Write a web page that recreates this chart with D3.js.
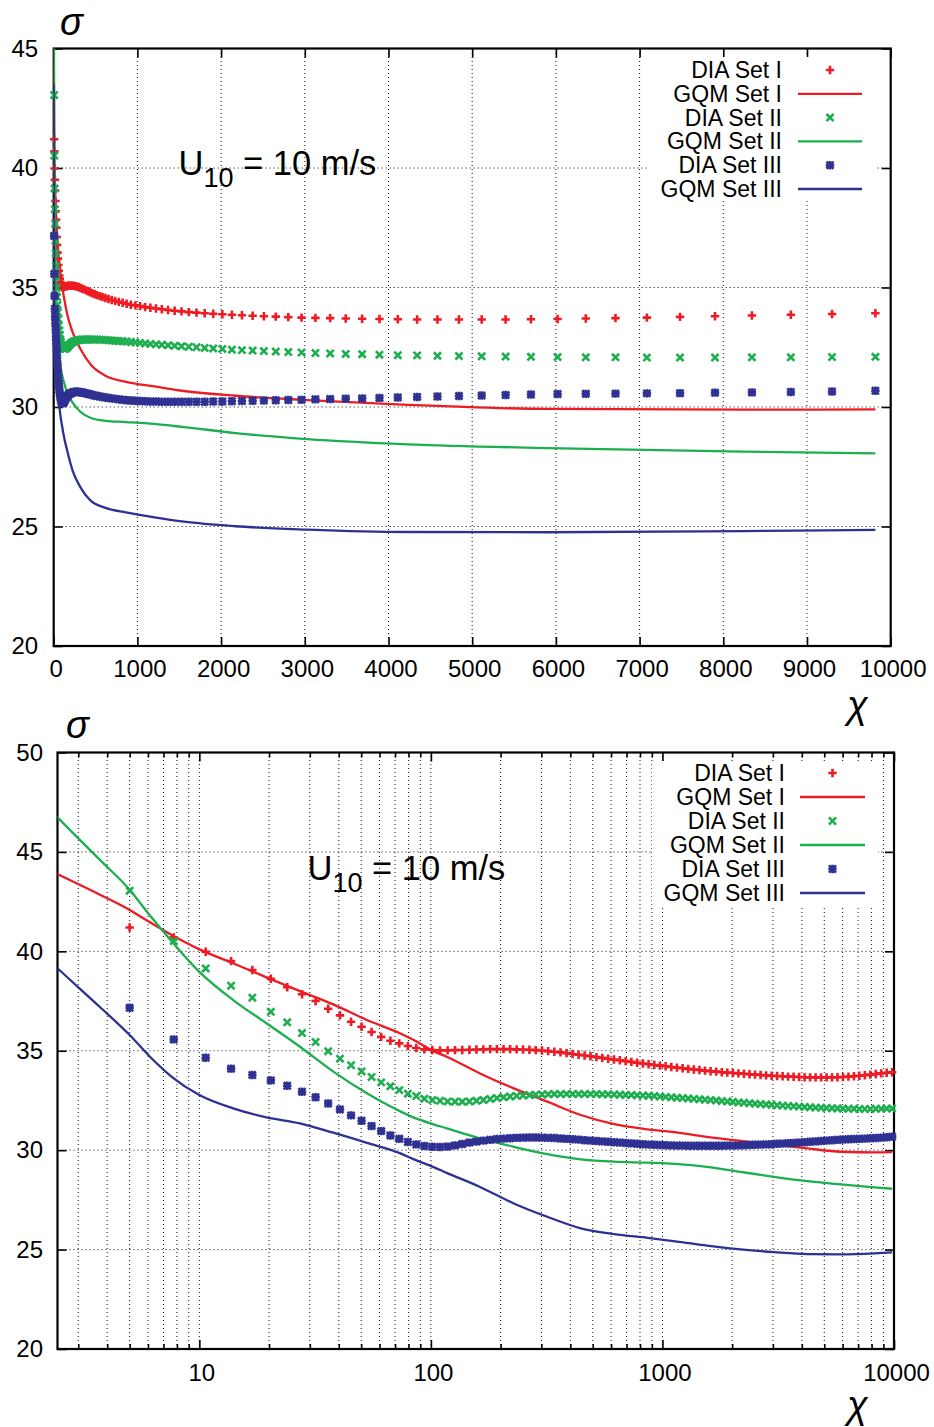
<!DOCTYPE html>
<html><head><meta charset="utf-8">
<script src="https://cdn.jsdelivr.net/npm/d3@7"></script>
<style>
body{margin:0;background:#fff}
svg{display:block}
text{font-family:"Liberation Sans",Arial,Helvetica,sans-serif}
</style>
</head><body>
<svg id="c" width="934" height="1427"></svg>
<script>
// ---------- data ----------
const xDIA = [5, 7.75, 10.65, 13.71, 16.94, 20.36, 23.96, 27.76, 31.77, 36.0,
  40.48, 45.2, 50.18, 55.44, 60.99, 66.85, 73.03, 79.55, 86.44, 93.72,
  101.4, 109.5, 118.1, 127.1, 136.6, 146.7, 157.3, 168.5, 180.3, 192.8,
  205.9, 219.8, 234.5, 250.0, 266.4, 283.6, 301.8, 321.1, 341.3, 362.8,
  385.4, 409.2, 434.4, 461.0, 489.1, 518.7, 549.9, 582.9, 617.7, 654.5,
  693.3, 734.3, 777.5, 823.1, 871.3, 922.1, 975.7, 1032, 1092, 1155,
  1222, 1292, 1366, 1445, 1527, 1614, 1706, 1804, 1906, 2015,
  2129, 2249, 2377, 2511, 2653, 2803, 2961, 3127, 3303, 3489,
  3685, 3892, 4111, 4342, 4585, 4842, 5113, 5399, 5702, 6020,
  6357, 6712, 7087, 7483, 7901, 8342, 8807, 9299, 9817];

const diaSetI = [41.2, 40.7, 39.98, 39.51, 39.06, 38.62, 38.19, 37.84, 37.50, 37.11,
  36.78, 36.46, 36.21, 35.94, 35.70, 35.50, 35.37, 35.24, 35.14, 35.07,
  35.04, 35.02, 35.02, 35.03, 35.04, 35.05, 35.06, 35.07, 35.08, 35.08,
  35.08, 35.08, 35.07, 35.06, 35.05, 35.03, 35.01, 34.98, 34.95, 34.92,
  34.88, 34.84, 34.80, 34.76, 34.72, 34.68, 34.64, 34.60, 34.56, 34.52,
  34.48, 34.44, 34.40, 34.36, 34.32, 34.28, 34.25, 34.22, 34.18, 34.15,
  34.12, 34.09, 34.06, 34.03, 34.00, 33.97, 33.95, 33.92, 33.90, 33.88,
  33.86, 33.84, 33.82, 33.80, 33.78, 33.76, 33.74, 33.73, 33.72, 33.70,
  33.69, 33.68, 33.67, 33.66, 33.66, 33.66, 33.66, 33.66, 33.67, 33.68,
  33.70, 33.72, 33.74, 33.77, 33.80, 33.83, 33.86, 33.89, 33.92];

const diaSetII = [43.05, 40.52, 39.14, 38.27, 37.67, 36.96, 36.43, 35.89, 35.44, 34.98,
  34.60, 34.27, 33.96, 33.68, 33.41, 33.21, 33.02, 32.84, 32.72, 32.59,
  32.52, 32.48, 32.45, 32.44, 32.44, 32.45, 32.48, 32.52, 32.57, 32.62,
  32.66, 32.70, 32.73, 32.75, 32.77, 32.79, 32.80, 32.81, 32.82, 32.82,
  32.82, 32.82, 32.82, 32.82, 32.82, 32.82, 32.81, 32.81, 32.80, 32.79,
  32.78, 32.77, 32.76, 32.75, 32.74, 32.72, 32.70, 32.68, 32.66, 32.64,
  32.62, 32.60, 32.58, 32.56, 32.54, 32.52, 32.50, 32.47, 32.45, 32.43,
  32.40, 32.38, 32.36, 32.34, 32.32, 32.30, 32.28, 32.26, 32.24, 32.22,
  32.21, 32.19, 32.17, 32.16, 32.14, 32.13, 32.12, 32.11, 32.10, 32.09,
  32.08, 32.08, 32.07, 32.07, 32.07, 32.08, 32.08, 32.09, 32.10];

const diaSetIII = [37.16, 35.57, 34.65, 34.10, 33.78, 33.51, 33.24, 32.94, 32.66, 32.35,
  32.05, 31.75, 31.48, 31.21, 30.96, 30.74, 30.57, 30.41, 30.29, 30.21,
  30.17, 30.16, 30.18, 30.24, 30.31, 30.38, 30.43, 30.48, 30.52, 30.56,
  30.58, 30.60, 30.62, 30.63, 30.64, 30.64, 30.63, 30.62, 30.61, 30.59,
  30.57, 30.55, 30.53, 30.50, 30.48, 30.46, 30.44, 30.42, 30.40, 30.38,
  30.36, 30.34, 30.32, 30.30, 30.28, 30.27, 30.26, 30.25, 30.24, 30.23,
  30.23, 30.22, 30.22, 30.22, 30.22, 30.22, 30.22, 30.22, 30.23, 30.23,
  30.24, 30.25, 30.26, 30.27, 30.28, 30.29, 30.30, 30.32, 30.33, 30.35,
  30.36, 30.38, 30.40, 30.42, 30.44, 30.46, 30.48, 30.50, 30.52, 30.54,
  30.55, 30.56, 30.57, 30.58, 30.60, 30.61, 30.63, 30.65, 30.68];

const xGQM = [1, 2, 2.44, 3.72, 5, 6.12, 7.6, 10, 14, 19.5, 27.2, 37.9, 52.9, 73.8, 84,
  102.8, 117, 163, 228, 318, 444, 619, 863, 1204, 1556, 2170, 3030, 4230, 5900, 8230, 9817];
const gqmSetI = [46.4, 44.4, 43.89, 42.85, 42.08, 41.46, 40.82, 40.10, 39.40, 38.69, 38.00,
  37.33, 36.55, 35.87, 35.55, 34.98, 34.70, 33.86, 33.11, 32.44, 31.77, 31.31, 31.05,
  30.86, 30.67, 30.47, 30.29, 30.09, 29.92, 29.89, 29.90];
const gqmSetII = [51.5, 47.8, 46.74, 44.6, 43.1, 41.8, 40.5, 38.97, 37.55, 36.38, 35.20,
  33.95, 32.86, 31.95, 31.65, 31.30, 31.10, 30.59, 30.17, 29.80, 29.54, 29.42, 29.37,
  29.29, 29.16, 28.91, 28.66, 28.44, 28.28, 28.13, 28.06];
const gqmSetIII = [43.5, 40.1, 39.15, 37.2, 35.79, 34.70, 33.69, 32.77, 32.10, 31.65, 31.35,
  30.88, 30.37, 29.84, 29.55, 29.15, 28.86, 28.15, 27.32, 26.65, 26.07, 25.78, 25.59,
  25.38, 25.20, 25.01, 24.87, 24.77, 24.76, 24.81, 24.86];

const legendLabels = ["DIA Set I", "GQM Set I", "DIA Set II", "GQM Set II", "DIA Set III", "GQM Set III"];
const topXTicks = [0, 1000, 2000, 3000, 4000, 5000, 6000, 7000, 8000, 9000, 10000];
const topYTicks = [20, 25, 30, 35, 40, 45];
const botXTicks = [10, 100, 1000, 10000];
const botYTicks = [20, 25, 30, 35, 40, 45, 50];
const annotation = {main: "U", sub: "10", rest: " = 10 m/s"};

// ---------- drawing ----------
const colors = ['#ED1C24', '#1DAE4F', '#2E3192'];
const diaSets = [diaSetI, diaSetII, diaSetIII];
const gqmSets = [gqmSetI, gqmSetII, gqmSetIII];
const FONT = '"Liberation Sans",Arial,Helvetica,sans-serif';

const markerPath = [
  s => `M${-s},0H${s}M0,${-s}V${s}`,
  s => `M${-s*0.85},${-s*0.85}L${s*0.85},${s*0.85}M${-s*0.85},${s*0.85}L${s*0.85},${-s*0.85}`,
  s => `M${-s},0H${s}M0,${-s}V${s}M${-s*0.85},${-s*0.85}L${s*0.85},${s*0.85}M${-s*0.85},${s*0.85}L${s*0.85},${-s*0.85}`
];

const svg = d3.select('#c');
const defs = svg.append('defs');

function drawPanel(p) {
  const x = p.x, y = p.y;
  const [xa, xb] = x.range();
  const [yb, ya] = y.range();
  const g = svg.append('g');
  defs.append('clipPath').attr('id', p.id).append('rect')
    .attr('x', xa).attr('y', ya).attr('width', xb - xa).attr('height', yb - ya);

  // grid
  const grid = g.append('g').attr('stroke', '#111').attr('stroke-width', 1).attr('stroke-dasharray', '1,3');
  grid.selectAll('line.gx').data(p.gridX).join('line').attr('class', 'gx')
    .attr('x1', d => x(d)).attr('x2', d => x(d)).attr('y1', yb).attr('y2', ya);
  grid.selectAll('line.gy').data(p.gridY).join('line').attr('class', 'gy')
    .attr('x1', xa).attr('x2', xb).attr('y1', d => y(d)).attr('y2', d => y(d));

  // axes
  function style(sel) {
    sel.select('.domain').remove();
    sel.selectAll('.tick line').attr('stroke', '#000').attr('stroke-width', 1.6);
    sel.selectAll('.tick text').attr('fill', '#000');
    sel.attr('font-size', 24).attr('font-family', FONT);
  }
  g.append('g').attr('transform', `translate(0,${yb})`)
    .call(d3.axisBottom(x).tickValues(p.xMajor).tickFormat(d3.format('d')).tickSize(-9).tickPadding(p.xPad))
    .call(style).selectAll('.tick text').attr('dx', 2);
  g.append('g').attr('transform', `translate(0,${ya})`)
    .call(d3.axisTop(x).tickValues(p.xMajor).tickFormat('').tickSize(-9)).call(style);
  if (p.xMinor) {
    g.append('g').attr('transform', `translate(0,${yb})`)
      .call(d3.axisBottom(x).tickValues(p.xMinor).tickFormat('').tickSize(-5)).call(style);
    g.append('g').attr('transform', `translate(0,${ya})`)
      .call(d3.axisTop(x).tickValues(p.xMinor).tickFormat('').tickSize(-5)).call(style);
  }
  g.append('g').attr('transform', `translate(${xa},0)`)
    .call(d3.axisLeft(y).tickValues(p.yTicks).tickFormat(d3.format('d')).tickSize(-9).tickPadding(p.yPad))
    .call(style);
  g.append('g').attr('transform', `translate(${xb},0)`)
    .call(d3.axisRight(y).tickValues(p.yTicks).tickFormat('').tickSize(-9)).call(style);

  // border
  g.append('rect').attr('x', xa).attr('y', ya).attr('width', xb - xa).attr('height', yb - ya)
    .attr('fill', 'none').attr('stroke', '#000').attr('stroke-width', 2.2);

  // data
  const line = d3.line().x(d => x(d[0])).y(d => y(d[1])).curve(d3.curveMonotoneX);
  for (let k = 0; k < 3; k++) {
    const pts = xDIA.map((v, i) => [v, diaSets[k][i]]);
    g.append('g').selectAll('path').data(pts).join('path')
      .attr('transform', d => `translate(${x(d[0])},${y(d[1])})`)
      .attr('d', markerPath[k](4.2))
      .attr('stroke', colors[k]).attr('stroke-width', 2.6).attr('fill', 'none');
    const lpts = xGQM.map((v, i) => [v, gqmSets[k][i]]);
    g.append('path').datum(lpts).attr('d', line).attr('clip-path', `url(#${p.id})`)
      .attr('fill', 'none').attr('stroke', colors[k]).attr('stroke-width', 2.3)
      .attr('stroke-linejoin', 'round');
  }

  // legend
  const L = p.legend;
  g.append('rect').attr('x', L.box[0]).attr('y', L.box[1]).attr('width', L.box[2]).attr('height', L.box[3]).attr('fill', '#fff');
  legendLabels.forEach((lab, i) => {
    const cy = L.cy0 + i * L.dy;
    const k = Math.floor(i / 2);
    g.append('text').attr('x', L.right).attr('y', cy + 8).attr('text-anchor', 'end')
      .attr('font-size', 23).attr('fill', '#000').text(lab);
    if (i % 2 === 0) {
      g.append('path').attr('transform', `translate(${(L.l0 + L.l1) / 2},${cy})`)
        .attr('d', markerPath[k](4.2)).attr('stroke', colors[k]).attr('stroke-width', 2.6).attr('fill', 'none');
    } else {
      g.append('line').attr('x1', L.l0).attr('x2', L.l1).attr('y1', cy).attr('y2', cy)
        .attr('stroke', colors[k]).attr('stroke-width', 2.3);
    }
  });

  // annotation
  const t = g.append('text').attr('x', p.ann[0]).attr('y', p.ann[1]).attr('font-size', 34.5).attr('fill', '#000');
  t.append('tspan').text(annotation.main);
  t.append('tspan').attr('font-size', 27).attr('dy', 11.7).text(annotation.sub);
  t.append('tspan').attr('dy', -11.7).text(annotation.rest);

  // axis symbols
  g.append('text').attr('x', p.sigma[0]).attr('y', p.sigma[1]).attr('font-size', 38)
    .attr('font-style', 'italic').attr('fill', '#000').text('σ');
  g.append('text').attr('x', p.chi[0]).attr('y', p.chi[1]).attr('font-size', 38)
    .attr('font-style', 'italic').attr('fill', '#000').text('χ');
}

// top panel (linear)
const xTop = d3.scaleLinear().domain([0, 10000]).range([53.7, 890.7]);
const yTop = d3.scaleLinear().domain([20, 45]).range([646, 48.5]);
drawPanel({
  id: 'clipTop', x: xTop, y: yTop,
  gridX: topXTicks.slice(1, -1), gridY: topYTicks.slice(1, -1),
  xMajor: topXTicks, yTicks: topYTicks, xPad: 14, yPad: 15.5,
  legend: {box: [648, 57, 228, 144], right: 782, l0: 798, l1: 862, cy0: 70, dy: 23.8},
  ann: [178.5, 175], sigma: [60, 35], chi: [847, 718]
});

// bottom panel (log)
const xBot = d3.scaleLog().domain([2.44, 10000]).range([57.5, 894]);
const yBot = d3.scaleLinear().domain([20, 50]).range([1349, 752.5]);
const logTicks = xBot.ticks().filter(v => v > 2.44 && v < 10000);
drawPanel({
  id: 'clipBot', x: xBot, y: yBot,
  gridX: logTicks, gridY: botYTicks.slice(1, -1),
  xMajor: botXTicks, xMinor: logTicks.filter(v => !botXTicks.includes(v)),
  yTicks: botYTicks, xPad: 15, yPad: 14.5,
  legend: {box: [652, 761, 226, 144], right: 785, l0: 800, l1: 865, cy0: 773, dy: 24},
  ann: [307.5, 880], sigma: [66, 738], chi: [847, 1418]
});
</script>
</body></html>
